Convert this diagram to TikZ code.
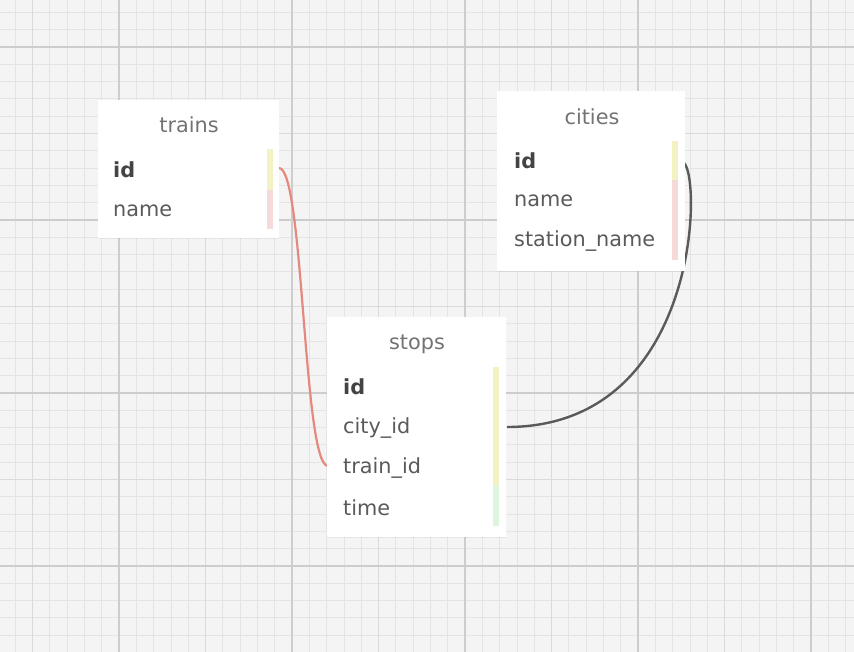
\documentclass[tikz,border=0pt]{standalone}
\usepackage{fontspec}
\setmainfont{DejaVu Sans}
\usetikzlibrary{shadows}

\definecolor{paper}{HTML}{F4F4F4}
\definecolor{gridminor}{HTML}{E4E4E4}
\definecolor{gridmid}{HTML}{DADADA}
\definecolor{gridmajor}{HTML}{CDCDCD}
\definecolor{fieldtext}{HTML}{5A5A5A}
\definecolor{keytext}{HTML}{444444}
\definecolor{barY}{HTML}{F2F2C4}
\definecolor{barP}{HTML}{F6DADA}
\definecolor{barG}{HTML}{DDF4DD}
\definecolor{linkred}{HTML}{E5897F}
\definecolor{linkdark}{HTML}{5A5A5A}

\tikzset{
  tablebox/.style={fill=white,inner sep=0pt,drop shadow={opacity=0.12,shadow xshift=0pt,shadow yshift=-1pt}},
  title/.style={font=\fontsize{20.8}{24}\selectfont,text=fieldtext!85,inner sep=0pt},
  field/.style={anchor=west,font=\fontsize{20.8}{24}\selectfont,text=fieldtext,inner sep=0pt},
  keyfield/.style={field,font=\fontsize{20.8}{24}\selectfont\bfseries,text=keytext},
}

\begin{document}
\begin{tikzpicture}[x=1pt,y=-1pt]

		\useasboundingbox (0,0) rectangle (854,652);
		\fill [paper] (0,0) rectangle (854,652);
		\foreach \i in {0,...,48}
			\draw [gridminor,line width=1pt] ({15.3+17.3*\i},0) -- ++(0,652);
		\foreach \j in {0,...,37}
			\draw [gridminor,line width=1pt] (0,{12.4+17.3*\j}) -- ++(854,0);
		\foreach \i in {1,11,21,31,41}
			\draw [gridmid,line width=1.2pt] ({15.3+17.3*\i},0) -- ++(0,652);
		\foreach \j in {7,17,27,37}
			\draw [gridmid,line width=1.2pt] (0,{12.4+17.3*\j}) -- ++(854,0);
		\foreach \i in {6,16,26,36,46}
			\draw [gridmajor,line width=1.4pt] ({15.3+17.3*\i},0) -- ++(0,652);
		\foreach \j in {2,12,22,32}
			\draw [gridmajor,line width=1.4pt] (0,{12.4+17.3*\j}) -- ++(854,0);

		% links
		\coordinate (T) at (279,168) ;
		\coordinate (ST) at (328,466) ;
		\coordinate (C) at (682,162) ;
		\coordinate (SC) at (507,427) ;
		\draw [linkred,line width=2.2pt] (T) .. controls (304,168) and (303,466) .. (ST) ;
		\draw [linkdark,line width=2.4pt] (C) .. controls (702,162) and (705,427) .. (SC) ;

		% tables
		\node [tablebox,minimum width=181pt,minimum height=138pt] (trains) at (188.5,169) {} ;
		\node [tablebox,minimum width=188pt,minimum height=180pt] (cities) at (591,181) {} ;
		\node [tablebox,minimum width=179pt,minimum height=220pt] (stops) at (416.5,427) {} ;

		\node [title] (trainsT) at (189,125) {trains} ;
		\node [keyfield] (trainsId) at (113,170) {id} ;
		\node [field] (trainsName) at (113,211) {name} ;
		\fill [barY] (267,149) rectangle (273,190) ;
		\fill [barP] (267,190) rectangle (273,229) ;

		\node [title] (citiesT) at (592,117) {cities} ;
		\node [keyfield] (citiesId) at (514,161) {id} ;
		\node [field] (citiesName) at (514,201) {name} ;
		\node [field] (citiesStation) at (514,241) {station\_name} ;
		\fill [barY] (672,141) rectangle (678,180) ;
		\fill [barP] (672,180) rectangle (678,260) ;

		\node [title] (stopsT) at (417,344) {stops} ;
		\node [keyfield] (stopsId) at (343,387) {id} ;
		\node [field] (stopsCity) at (343,428) {city\_id} ;
		\node [field] (stopsTrain) at (343,468) {train\_id} ;
		\node [field] (stopsTime) at (343,508) {time} ;
		\fill [barY] (493,367) rectangle (499,485) ;
		\fill [barG] (493,485) rectangle (499,526) ;

\end{tikzpicture}
\end{document}
